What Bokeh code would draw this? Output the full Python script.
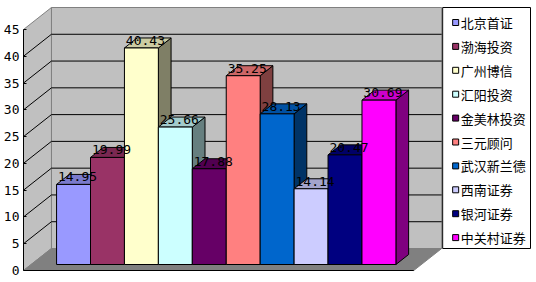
from bokeh.plotting import figure
from bokeh.models import Range1d, FixedTicker
from bokeh.core.properties import value
from bokeh.embed import file_html
from bokeh.resources import INLINE

categories = ["北京首证", "渤海投资", "广州博信", "汇阳投资", "金美林投资",
              "三元顾问", "武汉新兰德", "西南证券", "银河证券", "中关村证券"]
values = [14.95, 19.99, 40.43, 25.66, 17.88, 35.25, 28.13, 14.14, 20.47, 30.69]
colors = ["#9999FF", "#993366", "#FFFFCC", "#CCFFFF", "#660066",
          "#FF8080", "#0066CC", "#CCCCFF", "#000080", "#FF00FF"]
y_ticks = [0, 5, 10, 15, 20, 25, 30, 35, 40, 45]

# projection constants (pixels)
CW = 34.0              # category width in px
K = 241.0 / 45.0       # px per value unit
DEPTH = 22.0           # wall depth (vertical px)
RX = 28.0 / 22.0       # horizontal shift per vertical depth px
XLO, XHI = -1.25, len(values) - 1 + 1.25
VMAX = 45

def P(cx, v, d):
    return cx + d * RX / CW, v + d / K

def dark(c, f):
    r, g, b = int(c[1:3], 16), int(c[3:5], 16), int(c[5:7], 16)
    return "#%02x%02x%02x" % (int(r * f), int(g * f), int(b * f))

p = figure(width=536, height=282, output_backend="svg", toolbar_location=None,
           x_range=Range1d(XLO, XLO + 514 / CW), y_range=Range1d(-12 / K, 270 / K),
           min_border_left=22, min_border_right=0, min_border_top=0, min_border_bottom=0,
           x_axis_location=None)
p.grid.visible = False
p.outline_line_color = None
p.background_fill_color = "white"
p.border_fill_color = "white"

def poly(pts, fill, line="black", lw=1):
    xs = [q[0] for q in pts]
    ys = [q[1] for q in pts]
    p.patch(xs, ys, fill_color=fill, line_color=line, line_width=lw)

# walls and floor
poly([P(XLO, 0, DEPTH), P(XHI, 0, DEPTH), P(XHI, VMAX, DEPTH), P(XLO, VMAX, DEPTH)], "#C0C0C0", "#808080")
poly([P(XLO, 0, 0), P(XLO, 0, DEPTH), P(XLO, VMAX, DEPTH), P(XLO, VMAX, 0)], "#C0C0C0", "#808080")
poly([P(XLO, 0, 0), P(XHI, 0, 0), P(XHI, 0, DEPTH), P(XLO, 0, DEPTH)], "#808080", "#808080")

# gridlines
for t in y_ticks[1:-1]:
    a, b, c = P(XLO, t, 0), P(XLO, t, DEPTH), P(XHI, t, DEPTH)
    p.line([a[0], b[0], c[0]], [a[1], b[1], c[1]], line_color="black", line_width=1)

# front bottom edge
p.line([XLO, XHI], [0, 0], line_color="black", line_width=1)

# bars
D0, D1 = 6.0, 16.0
for i, (v, col) in enumerate(zip(values, colors)):
    l, r = i - 0.5, i + 0.5
    poly([P(r, 0, D0), P(r, 0, D1), P(r, v, D1), P(r, v, D0)], dark(col, 0.5))
    poly([P(l, v, D0), P(r, v, D0), P(r, v, D1), P(l, v, D1)], dark(col, 0.8))
    poly([P(l, 0, D0), P(r, 0, D0), P(r, v, D0), P(l, v, D0)], col)

# value labels
lx = [P(i, v, D0)[0] + 4 / CW for i, v in enumerate(values)]
ly = [P(i, v, D0)[1] + 7.5 / K for i, v in enumerate(values)]
p.text(lx, ly, text=["%.2f" % v for v in values], text_align="center",
       text_baseline="middle", text_font=value("DejaVu Sans Mono"),
       text_font_size="13px", text_color="black")

# legend (manual)
def px2x(px):
    return XLO + (px - 22) / CW

def py2y(py):
    return (270 - py) / K

p.quad(left=px2x(442), right=px2x(530), top=py2y(7), bottom=py2y(248),
       fill_color="white", line_color="black", line_width=1)
ys = [py2y(22 + 23.9 * i) for i in range(len(categories))]
p.rect([px2x(455)] * len(categories), ys, width=6, height=6,
       width_units="screen", height_units="screen",
       fill_color=colors, line_color="black", line_width=1)
p.text([px2x(460)] * len(categories), ys, text=categories, text_align="left",
       text_baseline="middle", text_font=value("Noto Sans CJK SC"),
       text_font_size="13px", text_color="black")

# y axis
ax = p.yaxis[0]
ax.ticker = FixedTicker(ticks=y_ticks)
ax.bounds = (0, 45)
ax.axis_line_color = "black"
ax.major_tick_in = 3
ax.major_tick_out = 0
ax.minor_tick_line_color = None
ax.major_label_standoff = 4
ax.major_label_text_font = "DejaVu Sans Mono"
ax.major_label_text_font_size = "13px"
ax.major_label_text_color = "black"

open("out.html", "w").write(file_html(p, INLINE))
